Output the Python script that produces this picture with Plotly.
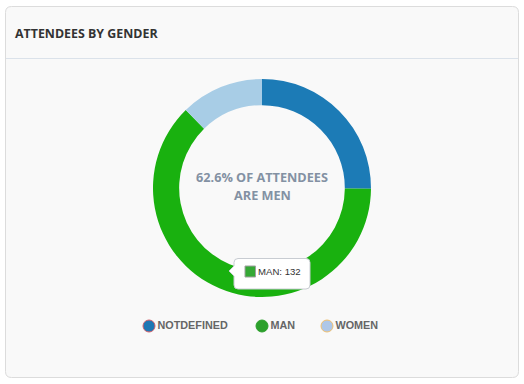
import plotly.graph_objects as go

# ---- data ----
labels = ["NOTDEFINED", "MAN", "WOMEN"]
values = [53, 132, 26]
slice_colors = ["#1c7bb6", "#19b10f", "#a8cde6"]
legend_colors = ["#1f77b4", "#2ca02c", "#aec7e8"]
legend_borders = ["#d0606a", "#2ca02c", "#f0c070"]
title_text = "ATTENDEES BY GENDER"
highlight = 1  # MAN

W, H = 524, 384
total = sum(values)
pct = values[highlight] / total * 100
center_lines = [f"{pct:.1f}% OF ATTENDEES", "ARE MEN"]

fig = go.Figure()

# donut
cx, cy, r = 262, 188, 109
fig.add_trace(go.Pie(
    labels=labels, values=values, sort=False, direction="clockwise", rotation=0,
    hole=0.76, marker=dict(colors=slice_colors, line=dict(width=0)),
    textinfo="none", hoverinfo="skip", showlegend=False,
    domain=dict(x=[(cx - r) / W, (cx + r) / W], y=[1 - (cy + r) / H, 1 - (cy - r) / H]),
))

# legend drawn as markers + text
legend_x = [149, 262, 327]
legend_y = 326
fig.add_trace(go.Scatter(
    x=legend_x, y=[legend_y] * len(labels), mode="markers+text",
    text=labels, textposition="middle right",
    textfont=dict(family="Liberation Sans, Arial", size=10.8, color="#666666", weight="bold"),
    marker=dict(size=12, color=legend_colors, line=dict(color=legend_borders, width=1)),
    hoverinfo="skip", showlegend=False, cliponaxis=False,
))

shapes = [
    # card
    dict(type="path", layer="below", xref="x", yref="y",
         path="M 11.5 6.5 L 512.5 6.5 Q 518.5 6.5 518.5 12.5 L 518.5 371.5 Q 518.5 377.5 512.5 377.5 "
              "L 11.5 377.5 Q 5.5 377.5 5.5 371.5 L 5.5 12.5 Q 5.5 6.5 11.5 6.5 Z",
         fillcolor="#f9f9f9", line=dict(color="#dcdcdc", width=1)),
    dict(type="line", layer="below", xref="x", yref="y", x0=6, x1=518, y0=58.5, y1=58.5,
         line=dict(color="#dbe2ea", width=1)),
    # tooltip box
    dict(type="path", layer="above", xref="x", yref="y",
         path="M 238 258.5 L 306 258.5 Q 310 258.5 310 262.5 L 310 285 Q 310 289 306 289 "
              "L 238 289 Q 234 289 234 285 L 234 276 L 229 271 L 234 266 L 234 262.5 Q 234 258.5 238 258.5 Z",
         fillcolor="white", line=dict(color="#c8ccd2", width=1)),
    dict(type="rect", layer="above", xref="x", yref="y", x0=245, x1=255.5, y0=266, y1=277,
         fillcolor="#35a835", line=dict(color="#a0a0a0", width=1)),
]

annotations = [
    dict(x=13, y=33, xref="x", yref="y", xanchor="left", yanchor="middle", showarrow=False,
         text=title_text, font=dict(family="Open Sans", size=12.4, color="#333333", weight="bold")),
    dict(x=cx, y=177, xref="x", yref="y", xanchor="center", yanchor="middle", showarrow=False,
         text=center_lines[0], font=dict(family="Open Sans", size=12.7, color="#8391a3", weight="bold")),
    dict(x=cx, y=195, xref="x", yref="y", xanchor="center", yanchor="middle", showarrow=False,
         text=center_lines[1], font=dict(family="Open Sans", size=12.7, color="#8391a3", weight="bold")),
    dict(x=256, y=271.5, xref="x", yref="y", xanchor="left", yanchor="middle", showarrow=False,
         text=f"{labels[highlight]}: {values[highlight]}",
         font=dict(family="Liberation Sans, Arial", size=9.6, color="#333333")),
]

fig.update_layout(
    width=W, height=H, margin=dict(l=0, r=0, t=0, b=0),
    paper_bgcolor="white", plot_bgcolor="rgba(0,0,0,0)",
    xaxis=dict(range=[0, W], visible=False, fixedrange=True, domain=[0, 1]),
    yaxis=dict(range=[H, 0], visible=False, fixedrange=True, domain=[0, 1]),
    shapes=shapes, annotations=annotations, showlegend=False,
)

fig.write_html("out.html", config={"displayModeBar": False},
               post_script="document.body.style.margin='0px';document.body.style.overflow='hidden';")
